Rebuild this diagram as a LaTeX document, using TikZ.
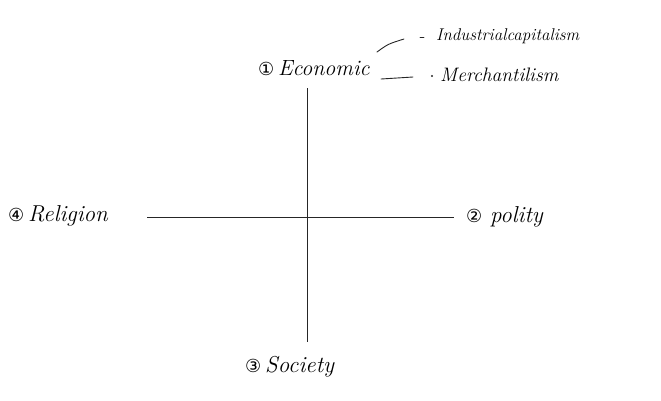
\documentclass[tikz,border=0pt]{standalone}
\usepackage{fontspec}
\newfontfamily\circfont{DejaVu Sans}
\usetikzlibrary{positioning}

\newcommand{\cnum}[1]{{\circfont\fontsize{18}{18}\selectfont #1}\,}

\begin{document}
\begin{tikzpicture}[x=1pt,y=-1pt,
    lbl/.style={font=\fontsize{23}{28}\selectfont\itshape,inner sep=0pt,anchor=base west},
    sub/.style={lbl,font=\fontsize{18}{22}\selectfont\itshape},
    axis/.style={line width=1pt,draw=black!85},
    ink/.style={line width=0.9pt,draw=black!85,line cap=round}
  ]
    \useasboundingbox (0,0) rectangle (661,400);
    % the four poles
    \node[lbl,font=\fontsize{22}{26}\selectfont\itshape] (econ) at (258,75) {\cnum{①}Economic};
    \node[lbl] (poli) at (466,222) {\cnum{②}\,polity};
    \node[lbl] (soci) at (245,372) {\cnum{③}Society};
    \node[lbl] (reli) at (8,221) {\cnum{④}Religion};
    % branches of the economy
    \node[sub,font=\fontsize{17}{20}\selectfont\itshape] (indu) at (436,40) {Industrialcapitalism};
    \node[sub,font=\fontsize{19.5}{22}\selectfont\itshape] (merc) at (440,81) {Merchantilism};
    % axes
    \coordinate (n) at (307,88);
    \coordinate (s) at (307,342);
    \coordinate (w) at (147,217);
    \coordinate (e) at (454,217);
    \draw[axis] (n) -- (s);
    \draw[axis] (w) -- (e);
    % fork to the branches
    \coordinate (up) at (377,52);
    \coordinate (lo) at (381,79);
    \draw[ink] (up) .. controls (388,44) .. (404,39);
    \draw[ink] ([xshift=-16pt]indu.west |- 0,37) -- ([xshift=-12pt]indu.west |- 0,37);
    \draw[ink] (lo) -- (413,77);
    \fill[black!85] ([xshift=-8pt]merc.base west |- 0,76) circle (1.2pt);
\end{tikzpicture}
\end{document}
